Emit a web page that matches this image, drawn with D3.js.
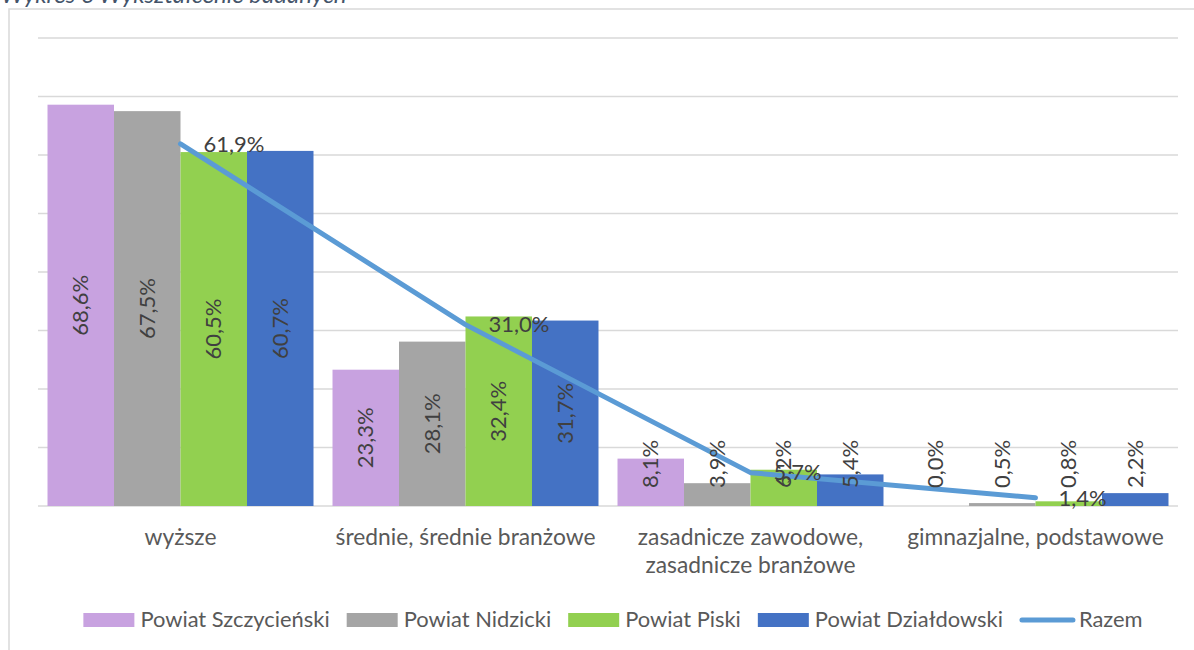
<!DOCTYPE html>
<html>
<head>
<meta charset="utf-8">
<script src="https://cdn.jsdelivr.net/npm/d3@7"></script>
<style>
  html, body { margin: 0; padding: 0; background: #fff; }
  svg { display: block; font-family: Lato, "Open Sans", sans-serif; }
</style>
</head>
<body>
<svg id="chart" width="1194" height="650"></svg>
<script>
const categories = ["wyższe", "średnie, średnie branżowe", "zasadnicze zawodowe, zasadnicze branżowe", "gimnazjalne, podstawowe"];
const seriesNames = ["Powiat Szczycieński", "Powiat Nidzicki", "Powiat Piski", "Powiat Działdowski"];
const szczycienski = [68.6, 23.3, 8.1, 0.0];
const nidzicki = [67.5, 28.1, 3.9, 0.5];
const piski = [60.5, 32.4, 6.2, 0.8];
const dzialdowski = [60.7, 31.7, 5.4, 2.2];
const razemName = "Razem";
const razem = [61.9, 31.0, 5.7, 1.4];
const yTicks = [0, 10, 20, 30, 40, 50, 60, 70, 80];
const titleText = "Wykres 6 Wykształcenie badanych";

const seriesValues = [szczycienski, nidzicki, piski, dzialdowski];
const colors = ["#C8A2E0", "#A5A5A5", "#92D050", "#4472C4"];
const lineColor = "#5B9BD5";
const labelSize = 22;
const textSize = 22.8;
const legendSize = 21.9;

const svg = d3.select("#chart");
const fmt = v => d3.format(".1f")(v).replace(".", ",") + "%";

// chart frame
svg.append("rect").attr("x", 9).attr("y", 9).attr("width", 1300).attr("height", 800)
  .attr("fill", "#fff").attr("stroke", "#D9D9D9").attr("stroke-width", 1.5);

// title (partially cut off at the top, as in the source)
svg.append("text").attr("x", 1).attr("y", 3)
  .attr("font-size", 24).attr("font-style", "italic").attr("fill", "#44546A")
  .text(titleText);

const x0 = d3.scaleBand().domain(d3.range(categories.length)).range([38, 1178]).paddingInner(0).paddingOuter(0);
const x1 = d3.scaleBand().domain(d3.range(seriesNames.length)).range([0, x0.bandwidth()]).paddingInner(0).paddingOuter(0.143);
const y = d3.scaleLinear().domain([0, 80]).range([506, 38]);

// gridlines
svg.append("g").selectAll("line").data(yTicks).join("line")
  .attr("x1", 38).attr("x2", 1178)
  .attr("y1", d => y(d)).attr("y2", d => y(d))
  .attr("stroke", "#D9D9D9").attr("stroke-width", 1.5);

// bars
const barData = [];
seriesValues.forEach((vals, s) => vals.forEach((v, c) => barData.push({s, c, v})));
svg.append("g").selectAll("rect").data(barData).join("rect")
  .attr("x", d => x0(d.c) + x1(d.s))
  .attr("width", x1.bandwidth())
  .attr("y", d => y(d.v))
  .attr("height", d => y(0) - y(d.v))
  .attr("fill", d => colors[d.s]);

// line
const line = d3.line().x((d, i) => x0(i) + x0.bandwidth() / 2).y(d => y(d));
svg.append("path").datum(razem).attr("d", line)
  .attr("fill", "none").attr("stroke", lineColor).attr("stroke-width", 5)
  .attr("stroke-linejoin", "round").attr("stroke-linecap", "round");

// bar labels (rotated)
const labelG = svg.append("g");
barData.forEach(d => {
  const cx = x0(d.c) + x1(d.s) + x1.bandwidth() / 2;
  const t = labelG.append("text").attr("font-size", labelSize).attr("fill", "#404040")
    .attr("text-anchor", "middle").attr("dy", "0.35em").text(fmt(d.v));
  const L = t.node().getComputedTextLength();
  const mid = (y(d.v) + y(0)) / 2;
  const cy = Math.min(mid, y(0) - 18 - L / 2);
  t.attr("transform", `translate(${cx},${cy}) rotate(-90)`);
});

// line labels
svg.append("g").selectAll("text").data(razem).join("text")
  .attr("x", (d, i) => x0(i) + x0.bandwidth() / 2 + 23)
  .attr("y", d => y(d)).attr("dy", "0.35em")
  .attr("font-size", labelSize).attr("fill", "#404040")
  .text(d => fmt(d));

// category labels with wrapping
const catG = svg.append("g");
categories.forEach((cat, i) => {
  const cx = x0(i) + x0.bandwidth() / 2;
  const words = cat.split(" ");
  const lines = [];
  let cur = "";
  const probe = catG.append("text").attr("font-size", textSize);
  words.forEach(w => {
    const test = cur ? cur + " " + w : w;
    probe.text(test);
    if (probe.node().getComputedTextLength() > x0.bandwidth() - 8 && cur) {
      lines.push(cur); cur = w;
    } else cur = test;
  });
  lines.push(cur);
  probe.remove();
  lines.forEach((ln, j) => {
    catG.append("text").attr("x", cx).attr("y", 545 + j * 28)
      .attr("text-anchor", "middle").attr("font-size", textSize).attr("fill", "#595959")
      .text(ln);
  });
});

// legend
const legend = svg.append("g");
const items = seriesNames.map((n, i) => ({name: n, color: colors[i], type: "rect"}))
  .concat([{name: razemName, color: lineColor, type: "line"}]);
let lx = 0;
items.forEach(it => {
  const g = legend.append("g").attr("transform", `translate(${lx},0)`);
  const sw = it.type === "rect" ? 51 : 55;
  if (it.type === "rect") {
    g.append("rect").attr("x", 0).attr("y", 613).attr("width", 51).attr("height", 14).attr("fill", it.color);
  } else {
    g.append("line").attr("x1", 2).attr("x2", 53).attr("y1", 620).attr("y2", 620)
      .attr("stroke", it.color).attr("stroke-width", 5).attr("stroke-linecap", "round");
  }
  const gap = it.type === "rect" ? 6 : 4;
  const t = g.append("text").attr("x", sw + gap).attr("y", 627)
    .attr("font-size", legendSize).attr("fill", "#595959").text(it.name);
  const w = t.node().getComputedTextLength();
  lx += sw + gap + w + 17;
});
const totalW = lx - 17;
legend.attr("transform", `translate(${613 - totalW / 2},0)`);
</script>
</body>
</html>
